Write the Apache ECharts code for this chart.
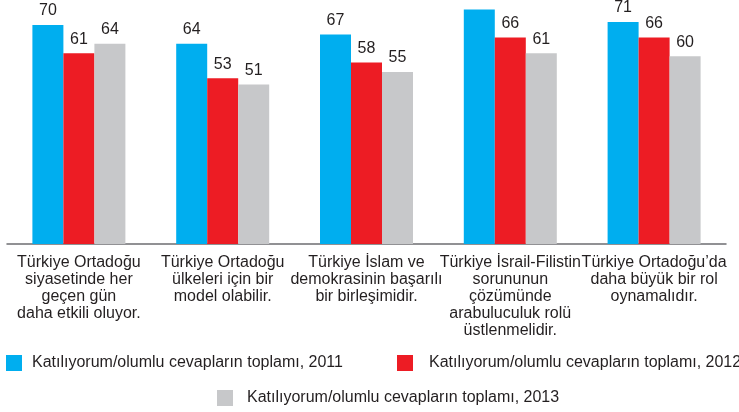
<!DOCTYPE html>
<html><head><meta charset="utf-8">
<script src="https://cdn.jsdelivr.net/npm/echarts@6/dist/echarts.min.js"></script>
<style>html,body{margin:0;padding:0;background:#fff}#c{width:739px;height:412px}</style>
</head><body><div id="c"></div>
<script>
const categories = [
  "Türkiye Ortadoğu\nsiyasetinde her\ngeçen gün\ndaha etkili oluyor.",
  "Türkiye Ortadoğu\nülkeleri için bir\nmodel olabilir.",
  "Türkiye İslam ve\ndemokrasinin başarılı\nbir birleşimidir.",
  "Türkiye İsrail-Filistin\nsorununun\nçözümünde\narabuluculuk rolü\nüstlenmelidir.",
  "Türkiye Ortadoğu’da\ndaha büyük bir rol\noynamalıdır."
];
const seriesNames = [
  "Katılıyorum/olumlu cevapların toplamı, 2011",
  "Katılıyorum/olumlu cevapların toplamı, 2012",
  "Katılıyorum/olumlu cevapların toplamı, 2013"
];
const values2011 = [70, 64, 67, 75, 71];
const values2012 = [61, 53, 58, 66, 66];
const values2013 = [64, 51, 55, 61, 60];
const colors = ["#00AEEF", "#ED1C24", "#C7C8CA"];

const FONT = "Liberation Sans, Arial, Helvetica, sans-serif";
const TXT = "#231F20";
const chart = echarts.init(document.getElementById('c'), null, {renderer: 'canvas'});
const allVals = [values2011, values2012, values2013];
const legendPos = [
  {left: 6, top: 355, pad: 5},
  {left: 397, top: 355, pad: 11},
  {left: 217, top: 390, pad: 9}
];
chart.setOption({
  animation: false,
  grid: {left: 7, right: 13, top: 0, bottom: 168, containLabel: false},
  legend: legendPos.map((p, i) => ({
    data: [seriesNames[i]], left: p.left, top: p.top, padding: 0,
    itemWidth: 16, itemHeight: 16, icon: 'rect',
    textStyle: {fontFamily: FONT, fontSize: 16, color: TXT, padding: [0, 0, 0, p.pad]}
  })),
  xAxis: {
    type: 'category', data: categories,
    axisLine: {show: true, lineStyle: {color: '#6d6e71', width: 1.5}},
    axisTick: {show: false},
    axisLabel: {interval: 0, fontFamily: FONT, fontSize: 16, color: TXT, lineHeight: 17, margin: 10, align: 'center'}
  },
  yAxis: {type: 'value', min: 0, max: 78, show: false, splitLine: {show: false}},
  series: allVals.map((v, i) => ({
    name: seriesNames[i], type: 'bar', data: v, barWidth: 31, barGap: '0%',
    itemStyle: {color: colors[i]},
    label: {show: true, position: 'top', distance: 6, fontFamily: FONT, fontSize: 16, color: TXT}
  }))
});
</script></body></html>
